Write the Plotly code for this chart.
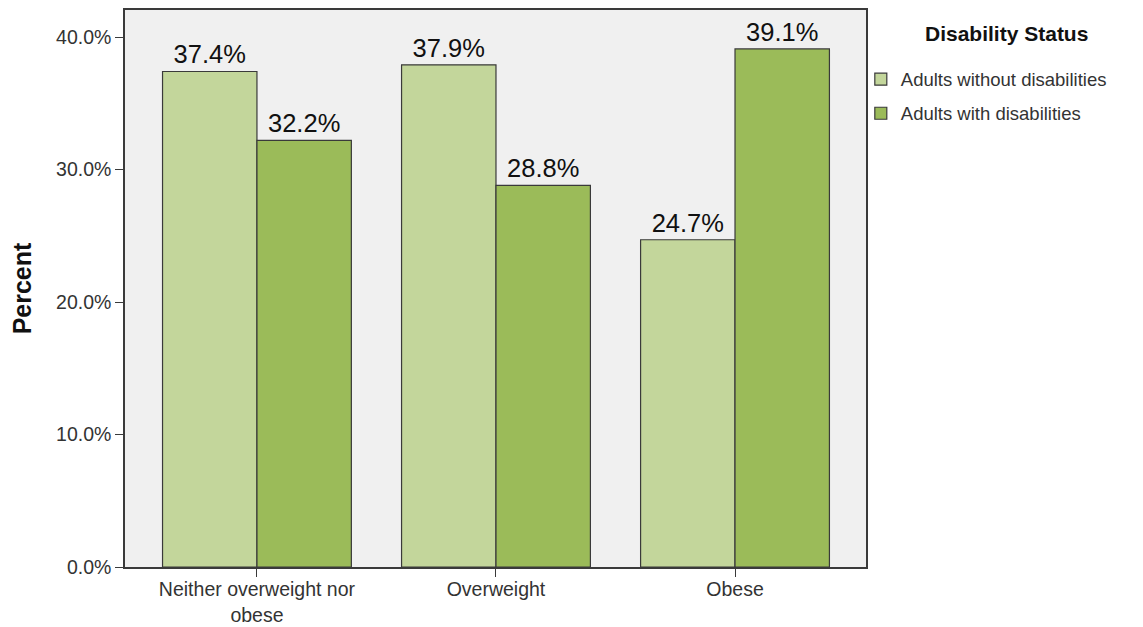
import plotly.graph_objects as go

categories = ["Neither overweight nor<br>obese", "Overweight", "Obese"]
without_disab = [37.4, 37.9, 24.7]
with_disab = [32.2, 28.8, 39.1]
series_names = ["Adults without disabilities", "Adults with disabilities"]
legend_title = "Disability Status"
y_ticks = [0, 10, 20, 30, 40]
y_tick_labels = ["0.0%", "10.0%", "20.0%", "30.0%", "40.0%"]

LIGHT = "#c3d69b"
DARK = "#9bbb59"
EDGE = "#3a3a3a"
FONT = "Liberation Sans, Arial, sans-serif"

fig = go.Figure()
for i, (name, vals, color) in enumerate(
    [(series_names[0], without_disab, LIGHT), (series_names[1], with_disab, DARK)]
):
    fig.add_trace(
        go.Bar(
            x=categories,
            y=vals,
            name=name,
            legendgroup=f"g{i}",
            marker=dict(color=color, line=dict(color=EDGE, width=1.2)),
            text=[f"{v:.1f}%" for v in vals],
            textposition="outside",
            textfont=dict(size=25.5, color="#111", family=FONT),
            cliponaxis=False,
        )
    )

# legend title as a separate label so it can sit centred above the items
fig.add_annotation(
    text=f"<b>{legend_title}</b>",
    xref="paper", yref="paper",
    x=1.189, y=0.957,
    xanchor="center", yanchor="middle",
    showarrow=False,
    font=dict(size=21, color="#111", family=FONT),
)

# page body adds an 8px margin, so the figure is drawn 8px smaller
fig.update_layout(
    width=1135,
    height=619,
    barmode="group",
    bargap=0.21,
    bargroupgap=0,
    paper_bgcolor="white",
    plot_bgcolor="#f0f0f0",
    margin=dict(l=117, r=277, t=2, b=60, autoexpand=False),
    font=dict(family=FONT, color="#333"),
    showlegend=True,
    legend=dict(
        x=0.993,
        y=0.909,
        xanchor="left",
        yanchor="top",
        font=dict(size=18.5, color="#333", family=FONT),
        itemwidth=30,
        tracegroupgap=7,
        bgcolor="rgba(0,0,0,0)",
    ),
)
fig.update_xaxes(
    range=[-0.552, 2.548],
    automargin=False,
    showline=True,
    linecolor=EDGE,
    linewidth=1.5,
    mirror=True,
    ticks="outside",
    ticklen=8,
    tickcolor=EDGE,
    ticklabelstandoff=-4,
    tickfont=dict(size=19.5, color="#333"),
    showgrid=False,
)
fig.update_yaxes(
    range=[0, 42.04],
    automargin=False,
    tickvals=y_ticks,
    ticktext=y_tick_labels,
    showline=True,
    linecolor=EDGE,
    linewidth=1.5,
    mirror=True,
    ticks="outside",
    ticklen=8,
    tickcolor=EDGE,
    tickfont=dict(size=19.5, color="#333"),
    showgrid=False,
    zeroline=False,
    title=dict(text="<b>Percent</b>", font=dict(size=25, color="#111"), standoff=22),
)

fig.write_html("out.html")
